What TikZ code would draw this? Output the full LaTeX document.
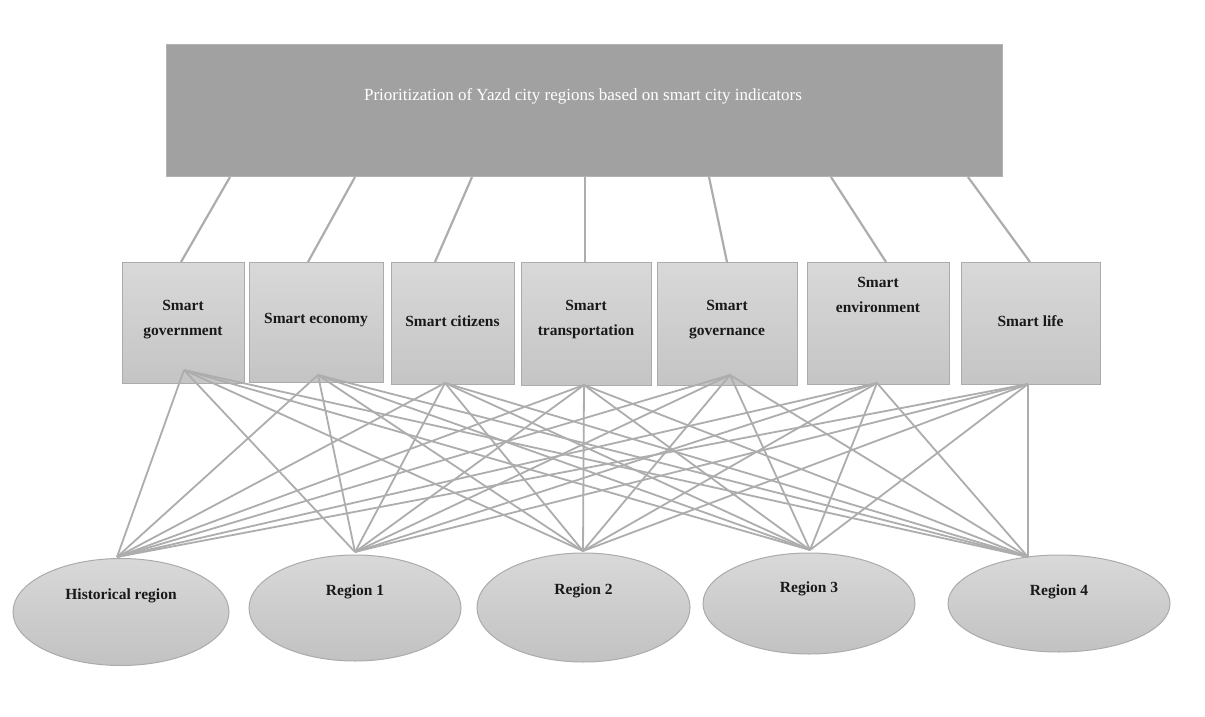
\documentclass[tikz,border=0pt]{standalone}
\usepackage{fontspec}
\setmainfont{Liberation Serif}
\usetikzlibrary{shapes.geometric}
\begin{document}
\begin{tikzpicture}[x=1pt,y=-1pt,
  topbox/.style={draw=gray!60, fill=black!37, minimum width=836pt, minimum height=132pt, inner sep=0pt},
  sbox/.style={draw=black!33, top color=black!15, bottom color=black!23, inner sep=0pt, line width=1pt},
  region/.style={ellipse, draw=black!33, top color=black!15, bottom color=black!24, inner sep=0pt, line width=1pt},
  btext/.style={font=\fontsize{15.5}{25}\selectfont\bfseries, align=center, text=black!90},
  conn/.style={draw=black!32, line width=2.2pt},
  ]
\useasboundingbox (0,0) rectangle (1205,717);
\fill[white] (0,0) rectangle (1205,717);
% top box
\node[topbox] (top) at (584,110) {};
\node[font=\fontsize{17}{20}\selectfont, text=white] (toptext) at (583,96) {Prioritization of Yazd city regions based on smart city indicators};
% indicator boxes
\node[sbox, minimum width=122pt, minimum height=121pt] (b1) at (183,322.5) {};
\node[sbox, minimum width=134pt, minimum height=120pt] (b2) at (316,322) {};
\node[sbox, minimum width=123pt, minimum height=122pt] (b3) at (452.5,323) {};
\node[sbox, minimum width=130pt, minimum height=123pt] (b4) at (586,323.5) {};
\node[sbox, minimum width=140pt, minimum height=123pt] (b5) at (727,323.5) {};
\node[sbox, minimum width=142pt, minimum height=122pt] (b6) at (878,323) {};
\node[sbox, minimum width=139pt, minimum height=122pt] (b7) at (1030.5,323) {};
\node[btext] (l1) at (183,320) {Smart\\government};
\node[btext] (l2) at (316,320) {Smart economy};
\node[btext] (l3) at (452.5,321) {Smart citizens};
\node[btext] (l4) at (586,320) {Smart\\transportation};
\node[btext] (l5) at (727,320) {Smart\\governance};
\node[btext] (l6) at (878,295) {Smart\\environment};
\node[btext] (l7) at (1030.5,321) {Smart life};
% regions
\node[region, minimum width=216pt, minimum height=107pt] (r0) at (121,612) {};
\node[region, minimum width=212pt, minimum height=106pt] (r1) at (355,608) {};
\node[region, minimum width=213pt, minimum height=109pt] (r2) at (583.5,607.5) {};
\node[region, minimum width=212pt, minimum height=101pt] (r3) at (809,603.5) {};
\node[region, minimum width=222pt, minimum height=97pt] (r4) at (1059,603.5) {};
\node[btext] (k0) at (121,596) {Historical region};
\node[btext] (k1) at (355,592) {Region 1};
\node[btext] (k2) at (583.5,591) {Region 2};
\node[btext] (k3) at (809,589) {Region 3};
\node[btext] (k4) at (1059,592) {Region 4};
% top connectors
\coordinate (t1) at (230,177); \coordinate (u1) at (181,262);
\coordinate (t2) at (355,177); \coordinate (u2) at (308,262);
\coordinate (t3) at (472,177); \coordinate (u3) at (435,262);
\coordinate (t4) at (585,177); \coordinate (u4) at (585,262);
\coordinate (t5) at (709,177); \coordinate (u5) at (727,262);
\coordinate (t6) at (831,177); \coordinate (u6) at (886,262);
\coordinate (t7) at (968,177); \coordinate (u7) at (1030,262);
\foreach \i in {1,...,7} {\draw[conn] (t\i) -- (u\i);}
% convergence points
\coordinate (p1) at (184,370);
\coordinate (p2) at (318,375);
\coordinate (p3) at (445,383);
\coordinate (p4) at (584,385);
\coordinate (p5) at (730,375);
\coordinate (p6) at (877,383);
\coordinate (p7) at (1028,384);
\coordinate (q0) at (117,557);
\coordinate (q1) at (355,552);
\coordinate (q2) at (583,551);
\coordinate (q3) at (810,550);
\coordinate (q4) at (1028,557);
\foreach \i in {1,...,7} {
  \foreach \j in {0,...,4} {
    \draw[conn, line width=1.8pt] (p\i) -- (q\j);
  }
}
\end{tikzpicture}
\end{document}
